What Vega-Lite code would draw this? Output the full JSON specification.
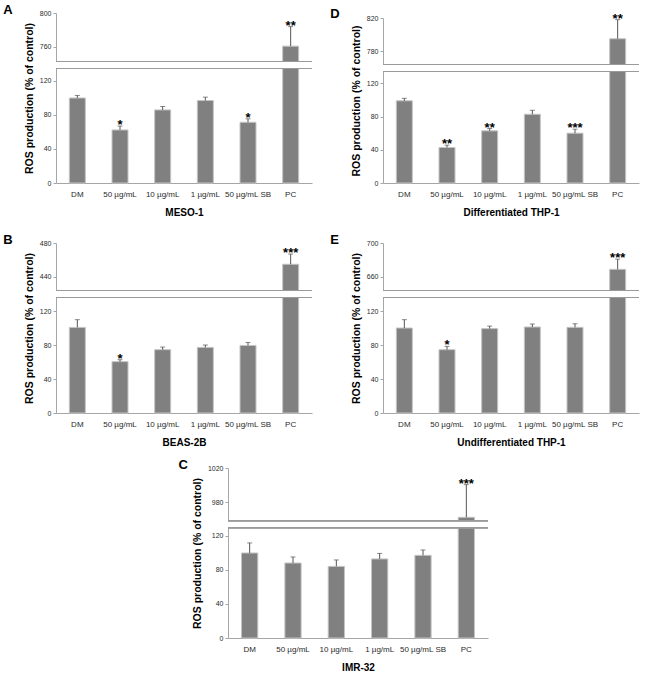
{
  "$schema": "https://vega.github.io/schema/vega-lite/v6.json",
  "padding": {"left": 3, "top": 4, "right": 5, "bottom": 2},
  "config": {
    "font": "Liberation Sans",
    "view": {"stroke": null},
    "axis": {"domainColor": "#a6a6a6", "tickColor": "#a6a6a6", "labelColor": "#2a2a2a", "titleColor": "#000000", "grid": false, "labelFont": "Liberation Sans", "titleFont": "Liberation Sans"},
    "axisX": {"labelAngle": 0, "ticks": false, "labelFontSize": 8, "labelPadding": 7, "titleFontSize": 10, "titleFontWeight": "bold", "titlePadding": 9},
    "axisY": {"tickSize": 3, "labelFontSize": 7, "labelPadding": 2, "titleFontSize": 10.5, "titleFontWeight": "bold", "titlePadding": 5, "labelOverlap": false, "labelFlush": false, "tickCount": 12, "format": "d"},
    "title": {"anchor": "start", "frame": "bounds", "fontSize": 13, "fontWeight": "bold", "color": "#000000", "font": "Liberation Sans", "baseline": "alphabetic", "offset": -8, "dx": -21}
  },
  "datasets": {
    "ros": [
      {"panel": "A", "group": "DM", "value": 100, "upper": 103, "sig": ""},
      {"panel": "A", "group": "50 µg/mL", "value": 62.4, "upper": 67, "sig": "*"},
      {"panel": "A", "group": "10 µg/mL", "value": 86, "upper": 90, "sig": ""},
      {"panel": "A", "group": "1 µg/mL", "value": 97, "upper": 101, "sig": ""},
      {"panel": "A", "group": "50 µg/mL SB", "value": 71.4, "upper": 75.5, "sig": "*"},
      {"panel": "A", "group": "PC", "value": 761, "upper": 784, "sig": "**"},
      {"panel": "D", "group": "DM", "value": 99, "upper": 102, "sig": ""},
      {"panel": "D", "group": "50 µg/mL", "value": 42.8, "upper": 45.6, "sig": "**"},
      {"panel": "D", "group": "10 µg/mL", "value": 62.8, "upper": 65.6, "sig": "**"},
      {"panel": "D", "group": "1 µg/mL", "value": 82.8, "upper": 87.6, "sig": ""},
      {"panel": "D", "group": "50 µg/mL SB", "value": 60, "upper": 64.8, "sig": "***"},
      {"panel": "D", "group": "PC", "value": 795, "upper": 818, "sig": "**"},
      {"panel": "B", "group": "DM", "value": 100.7, "upper": 109.8, "sig": ""},
      {"panel": "B", "group": "50 µg/mL", "value": 60.4, "upper": 62.7, "sig": "*"},
      {"panel": "B", "group": "10 µg/mL", "value": 74.5, "upper": 77.6, "sig": ""},
      {"panel": "B", "group": "1 µg/mL", "value": 77.2, "upper": 80, "sig": ""},
      {"panel": "B", "group": "50 µg/mL SB", "value": 79.5, "upper": 83, "sig": ""},
      {"panel": "B", "group": "PC", "value": 455, "upper": 467, "sig": "***"},
      {"panel": "E", "group": "DM", "value": 100, "upper": 109.8, "sig": ""},
      {"panel": "E", "group": "50 µg/mL", "value": 74.5, "upper": 78.4, "sig": "*"},
      {"panel": "E", "group": "10 µg/mL", "value": 99.3, "upper": 102.3, "sig": ""},
      {"panel": "E", "group": "1 µg/mL", "value": 101.2, "upper": 104.7, "sig": ""},
      {"panel": "E", "group": "50 µg/mL SB", "value": 100.8, "upper": 105, "sig": ""},
      {"panel": "E", "group": "PC", "value": 669, "upper": 681, "sig": "***"},
      {"panel": "C", "group": "DM", "value": 100, "upper": 111.8, "sig": ""},
      {"panel": "C", "group": "50 µg/mL", "value": 88.2, "upper": 95.3, "sig": ""},
      {"panel": "C", "group": "10 µg/mL", "value": 84.2, "upper": 91.8, "sig": ""},
      {"panel": "C", "group": "1 µg/mL", "value": 93, "upper": 99.5, "sig": ""},
      {"panel": "C", "group": "50 µg/mL SB", "value": 97.2, "upper": 103.5, "sig": ""},
      {"panel": "C", "group": "PC", "value": 962, "upper": 1000.5, "sig": "***"}
    ]
  },
  "spacing": 12,
  "vconcat": [
    {
      "spacing": 17,
      "vconcat": [
        {
          "spacing": 14,
          "hconcat": [
            {
              "width": 256, "height": 170,
              "title": {"text": "A"},
              "data": {"name": "ros"},
              "transform": [{"filter": "datum.panel === 'A'"}],
              "layer": [
                {"mark": {"type": "bar", "color": "#808080", "stroke": "#c4c4c4", "strokeWidth": 1},
                 "encoding": {
                   "x": {"field": "group", "type": "nominal", "sort": null, "scale": {"paddingInner": 0.625, "paddingOuter": 0.3125}, "axis": {"title": "MESO-1"}},
                   "y": {"field": "value", "type": "quantitative", "scale": {"domain": [0, 134.7, 742.9, 800], "range": [170, 55.5, 48.5, 0], "nice": false, "zero": false}, "axis": {"values": [0, 40, 80, 120, 760, 800], "title": "ROS production (% of control)"}}}},
                {"mark": {"type": "rule", "color": "#555555", "strokeWidth": 1},
                 "encoding": {"x": {"field": "group", "type": "nominal", "sort": null}, "y": {"field": "value", "type": "quantitative"}, "y2": {"field": "upper"}}},
                {"mark": {"type": "tick", "color": "#555555", "thickness": 1, "size": 5, "orient": "horizontal"},
                 "encoding": {"x": {"field": "group", "type": "nominal", "sort": null}, "y": {"field": "upper", "type": "quantitative"}}},
                {"mark": {"type": "rule", "color": "#ffffff", "strokeWidth": 7}, "encoding": {"y": {"datum": 438.8}}},
                {"mark": {"type": "rule", "color": "#9a9a9a", "strokeWidth": 1}, "encoding": {"y": {"datum": 134.7}}},
                {"mark": {"type": "rule", "color": "#9a9a9a", "strokeWidth": 1}, "encoding": {"y": {"datum": 742.9}}},
                {"mark": {"type": "text", "fontSize": 13, "fontWeight": "bold", "dy": 3, "baseline": "alphabetic", "color": "#000000"},
                 "encoding": {"x": {"field": "group", "type": "nominal", "sort": null}, "y": {"field": "upper", "type": "quantitative"}, "text": {"field": "sig"}}}
              ]
            },
            {
              "width": 256, "height": 170,
              "title": {"text": "D"},
              "data": {"name": "ros"},
              "transform": [{"filter": "datum.panel === 'D'"}],
              "layer": [
                {"mark": {"type": "bar", "color": "#808080", "stroke": "#c4c4c4", "strokeWidth": 1},
                 "encoding": {
                   "x": {"field": "group", "type": "nominal", "sort": null, "scale": {"paddingInner": 0.625, "paddingOuter": 0.3125}, "axis": {"title": "Differentiated THP-1"}},
                   "y": {"field": "value", "type": "quantitative", "scale": {"domain": [0, 134.3, 764, 820], "range": [170, 58.5, 51.5, 5], "nice": false, "zero": false}, "axis": {"values": [0, 40, 80, 120, 780, 820], "title": "ROS production (% of control)"}}}},
                {"mark": {"type": "rule", "color": "#555555", "strokeWidth": 1},
                 "encoding": {"x": {"field": "group", "type": "nominal", "sort": null}, "y": {"field": "value", "type": "quantitative"}, "y2": {"field": "upper"}}},
                {"mark": {"type": "tick", "color": "#555555", "thickness": 1, "size": 5, "orient": "horizontal"},
                 "encoding": {"x": {"field": "group", "type": "nominal", "sort": null}, "y": {"field": "upper", "type": "quantitative"}}},
                {"mark": {"type": "rule", "color": "#ffffff", "strokeWidth": 7}, "encoding": {"y": {"datum": 449}}},
                {"mark": {"type": "rule", "color": "#9a9a9a", "strokeWidth": 1}, "encoding": {"y": {"datum": 134.3}}},
                {"mark": {"type": "rule", "color": "#9a9a9a", "strokeWidth": 1}, "encoding": {"y": {"datum": 764}}},
                {"mark": {"type": "text", "fontSize": 13, "fontWeight": "bold", "dy": 3, "baseline": "alphabetic", "color": "#000000"},
                 "encoding": {"x": {"field": "group", "type": "nominal", "sort": null}, "y": {"field": "upper", "type": "quantitative"}, "text": {"field": "sig"}}}
              ]
            }
          ]
        },
        {
          "spacing": 14,
          "hconcat": [
            {
              "width": 256, "height": 170,
              "title": {"text": "B"},
              "data": {"name": "ros"},
              "transform": [{"filter": "datum.panel === 'B'"}],
              "layer": [
                {"mark": {"type": "bar", "color": "#808080", "stroke": "#c4c4c4", "strokeWidth": 1},
                 "encoding": {
                   "x": {"field": "group", "type": "nominal", "sort": null, "scale": {"paddingInner": 0.625, "paddingOuter": 0.3125}, "axis": {"title": "BEAS-2B"}},
                   "y": {"field": "value", "type": "quantitative", "scale": {"domain": [0, 135.9, 424.1, 480], "range": [170, 54.5, 47.5, 0], "nice": false, "zero": false}, "axis": {"values": [0, 40, 80, 120, 440, 480], "title": "ROS production (% of control)"}}}},
                {"mark": {"type": "rule", "color": "#555555", "strokeWidth": 1},
                 "encoding": {"x": {"field": "group", "type": "nominal", "sort": null}, "y": {"field": "value", "type": "quantitative"}, "y2": {"field": "upper"}}},
                {"mark": {"type": "tick", "color": "#555555", "thickness": 1, "size": 5, "orient": "horizontal"},
                 "encoding": {"x": {"field": "group", "type": "nominal", "sort": null}, "y": {"field": "upper", "type": "quantitative"}}},
                {"mark": {"type": "rule", "color": "#ffffff", "strokeWidth": 7}, "encoding": {"y": {"datum": 280}}},
                {"mark": {"type": "rule", "color": "#9a9a9a", "strokeWidth": 1}, "encoding": {"y": {"datum": 135.9}}},
                {"mark": {"type": "rule", "color": "#9a9a9a", "strokeWidth": 1}, "encoding": {"y": {"datum": 424.1}}},
                {"mark": {"type": "text", "fontSize": 13, "fontWeight": "bold", "dy": 3, "baseline": "alphabetic", "color": "#000000"},
                 "encoding": {"x": {"field": "group", "type": "nominal", "sort": null}, "y": {"field": "upper", "type": "quantitative"}, "text": {"field": "sig"}}}
              ]
            },
            {
              "width": 256, "height": 170,
              "title": {"text": "E"},
              "data": {"name": "ros"},
              "transform": [{"filter": "datum.panel === 'E'"}],
              "layer": [
                {"mark": {"type": "bar", "color": "#808080", "stroke": "#c4c4c4", "strokeWidth": 1},
                 "encoding": {
                   "x": {"field": "group", "type": "nominal", "sort": null, "scale": {"paddingInner": 0.625, "paddingOuter": 0.3125}, "axis": {"title": "Undifferentiated THP-1"}},
                   "y": {"field": "value", "type": "quantitative", "scale": {"domain": [0, 135.9, 644.1, 700], "range": [170, 54.5, 47.5, 0], "nice": false, "zero": false}, "axis": {"values": [0, 40, 80, 120, 660, 700], "title": "ROS production (% of control)"}}}},
                {"mark": {"type": "rule", "color": "#555555", "strokeWidth": 1},
                 "encoding": {"x": {"field": "group", "type": "nominal", "sort": null}, "y": {"field": "value", "type": "quantitative"}, "y2": {"field": "upper"}}},
                {"mark": {"type": "tick", "color": "#555555", "thickness": 1, "size": 5, "orient": "horizontal"},
                 "encoding": {"x": {"field": "group", "type": "nominal", "sort": null}, "y": {"field": "upper", "type": "quantitative"}}},
                {"mark": {"type": "rule", "color": "#ffffff", "strokeWidth": 7}, "encoding": {"y": {"datum": 390}}},
                {"mark": {"type": "rule", "color": "#9a9a9a", "strokeWidth": 1}, "encoding": {"y": {"datum": 135.9}}},
                {"mark": {"type": "rule", "color": "#9a9a9a", "strokeWidth": 1}, "encoding": {"y": {"datum": 644.1}}},
                {"mark": {"type": "text", "fontSize": 13, "fontWeight": "bold", "dy": 3, "baseline": "alphabetic", "color": "#000000"},
                 "encoding": {"x": {"field": "group", "type": "nominal", "sort": null}, "y": {"field": "upper", "type": "quantitative"}, "text": {"field": "sig"}}}
              ]
            }
          ]
        }
      ]
    },
    {
      "spacing": 0,
      "hconcat": [
        {"width": 122, "height": 170, "data": {"values": []}, "mark": {"type": "point", "opacity": 0}},
        {
          "width": 260, "height": 170,
          "title": {"text": "C", "dx": -14},
          "data": {"name": "ros"},
          "transform": [{"filter": "datum.panel === 'C'"}],
          "layer": [
            {"mark": {"type": "bar", "color": "#808080", "stroke": "#c4c4c4", "strokeWidth": 1},
             "encoding": {
               "x": {"field": "group", "type": "nominal", "sort": null, "scale": {"paddingInner": 0.625, "paddingOuter": 0.3125}, "axis": {"title": "IMR-32"}},
               "y": {"field": "value", "type": "quantitative", "scale": {"domain": [0, 129.6, 957.9, 1020], "range": [170, 59.8, 52.8, 0], "nice": false, "zero": false}, "axis": {"values": [0, 40, 80, 120, 980, 1020], "title": "ROS production (% of control)"}}}},
            {"mark": {"type": "rule", "color": "#555555", "strokeWidth": 1},
             "encoding": {"x": {"field": "group", "type": "nominal", "sort": null}, "y": {"field": "value", "type": "quantitative"}, "y2": {"field": "upper"}}},
            {"mark": {"type": "tick", "color": "#555555", "thickness": 1, "size": 5, "orient": "horizontal"},
             "encoding": {"x": {"field": "group", "type": "nominal", "sort": null}, "y": {"field": "upper", "type": "quantitative"}}},
            {"mark": {"type": "rule", "color": "#ffffff", "strokeWidth": 7}, "encoding": {"y": {"datum": 543.7}}},
            {"mark": {"type": "rule", "color": "#9a9a9a", "strokeWidth": 1}, "encoding": {"y": {"datum": 129.6}}},
            {"mark": {"type": "rule", "color": "#9a9a9a", "strokeWidth": 1}, "encoding": {"y": {"datum": 957.9}}},
            {"mark": {"type": "text", "fontSize": 13, "fontWeight": "bold", "dy": 3, "baseline": "alphabetic", "color": "#000000"},
             "encoding": {"x": {"field": "group", "type": "nominal", "sort": null}, "y": {"field": "upper", "type": "quantitative"}, "text": {"field": "sig"}}}
          ]
        }
      ]
    }
  ]
}
